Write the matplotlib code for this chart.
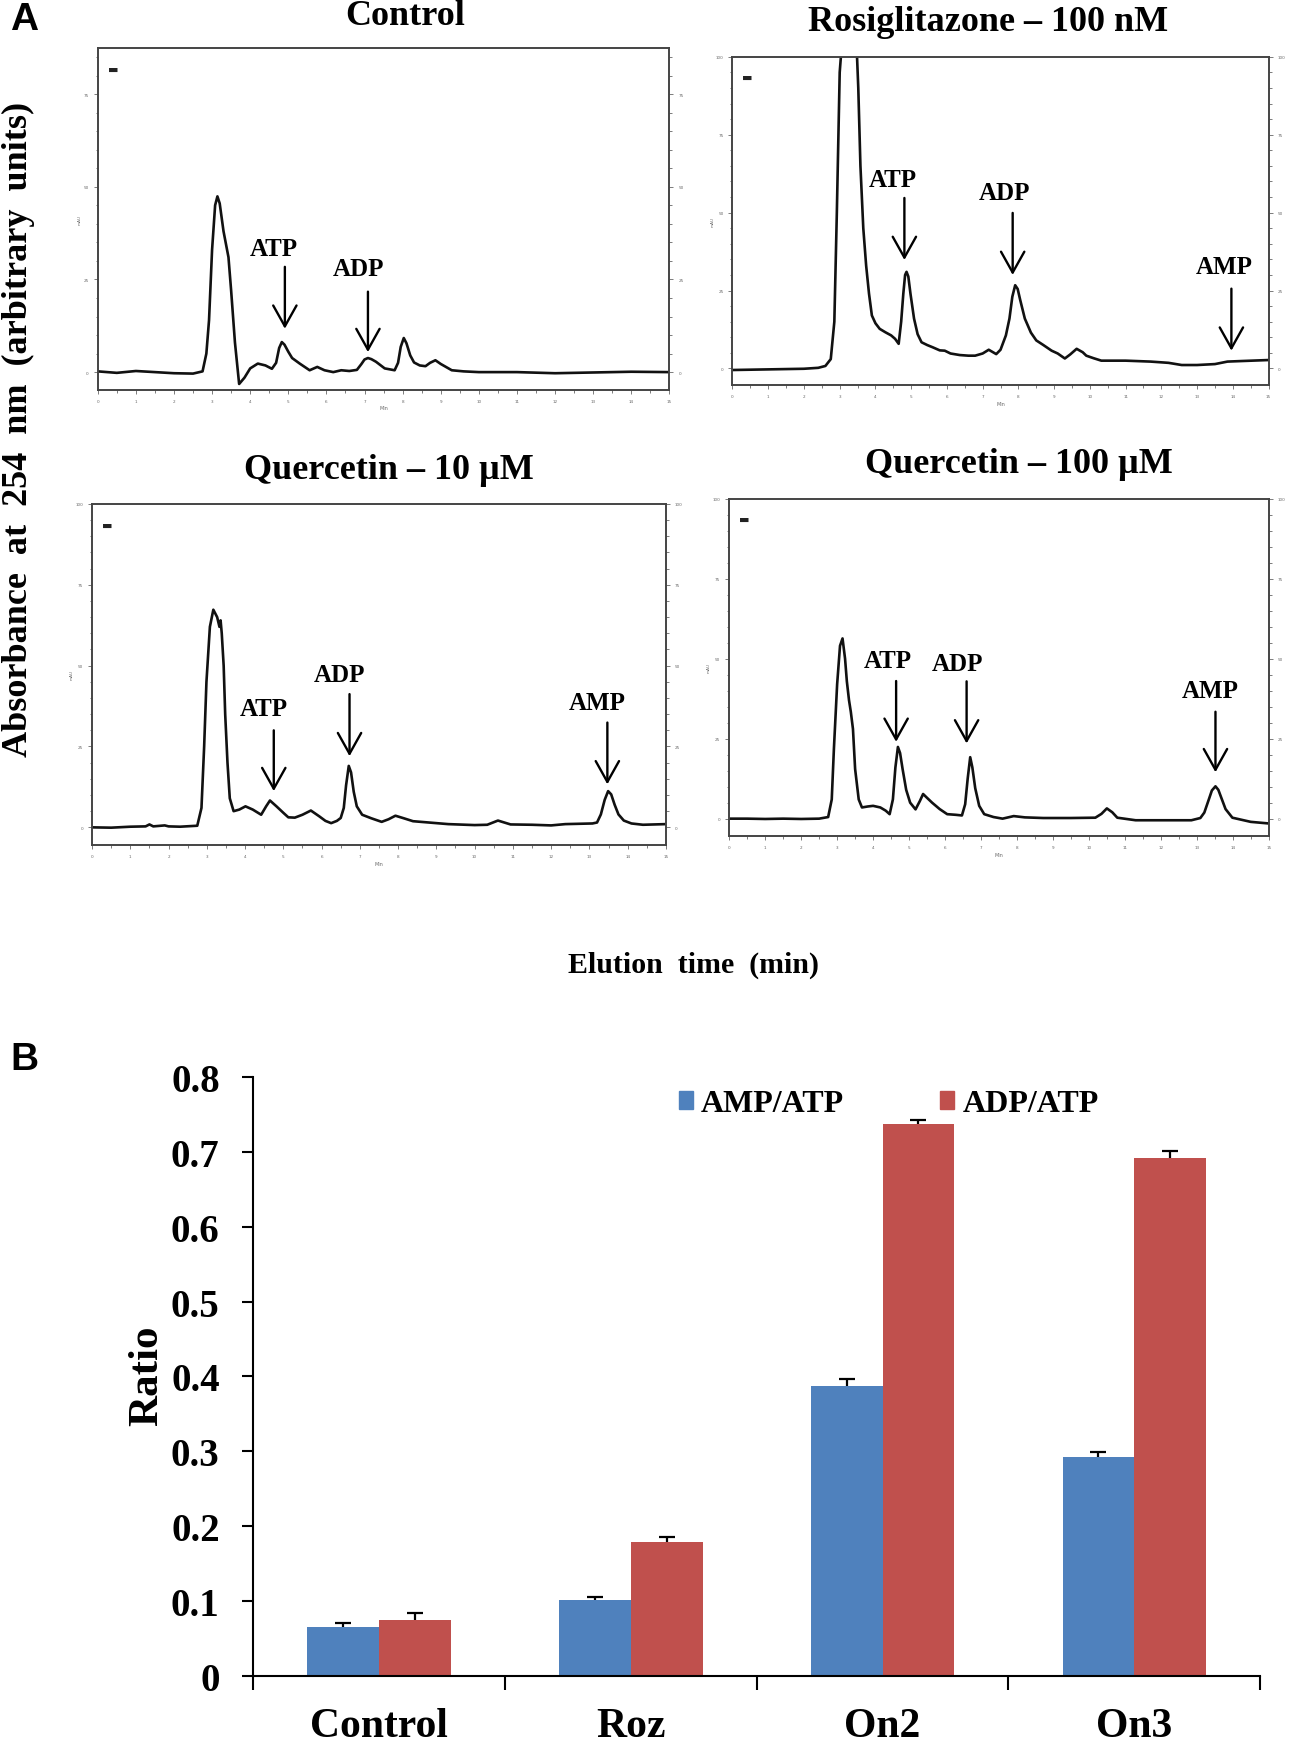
import matplotlib
matplotlib.use("Agg")
import matplotlib.pyplot as plt
from matplotlib.patches import Patch
import numpy as np

# === Panel A: HPLC chromatograms (time in min, absorbance in arbitrary units) ===
ctrl_t = [0, 0.5, 1.0, 1.5, 2.0, 2.5, 2.75, 2.85, 2.92, 3.0, 3.08, 3.14, 3.2, 3.3, 3.43,
          3.5, 3.6, 3.71, 3.85, 4.0, 4.2, 4.4, 4.57, 4.68, 4.76, 4.83, 4.9, 5.0, 5.1, 5.3,
          5.56, 5.76, 5.95, 6.18, 6.39, 6.6, 6.8, 6.92, 7.0, 7.09, 7.18, 7.3, 7.53, 7.79,
          7.88, 7.95, 8.03, 8.1, 8.2, 8.3, 8.45, 8.6, 8.72, 8.86, 9.0, 9.29, 9.6, 10, 11,
          12, 13, 14, 15]
ctrl_y = [0.2, -0.2, 0.3, 0, -0.3, -0.4, 0.2, 5, 14, 33, 45, 47.4, 45.5, 38, 31,
          22, 8, -3.2, -1.5, 1, 2.3, 1.8, 0.9, 2.5, 6.5, 8.1, 7.4, 5.5, 3.8, 2.3,
          0.5, 1.4, 0.5, 0, 0.5, 0.3, 0.6, 2.2, 3.4, 3.8, 3.5, 2.8, 1, 0.5,
          2.5, 6.8, 9.2, 7.8, 4.5, 2.6, 1.8, 1.6, 2.5, 3.2, 2.2, 0.5, 0.2, 0, 0,
          -0.3, -0.1, 0.1, 0]

rosi_t = [0, 0.5, 1, 1.5, 2, 2.4, 2.6, 2.75, 2.85, 2.92, 3.0, 3.1, 3.45, 3.52, 3.58, 3.66,
          3.74, 3.82, 3.9, 4.0, 4.12, 4.28, 4.44, 4.55, 4.65, 4.72, 4.78, 4.83, 4.87, 4.92,
          4.98, 5.08, 5.18, 5.29, 5.45, 5.6, 5.8, 5.94, 6.1, 6.36, 6.6, 6.79, 7.0, 7.17,
          7.38, 7.5, 7.65, 7.75, 7.83, 7.91, 7.98, 8.05, 8.18, 8.35, 8.5, 8.7, 8.93, 9.1,
          9.3, 9.45, 9.63, 9.8, 9.9, 10.1, 10.32, 11, 11.7, 12.2, 12.57, 13, 13.5, 13.85,
          14.3, 15]
rosi_y = [-0.5, -0.4, -0.3, -0.2, -0.1, 0.2, 0.8, 3, 15, 50, 95, 110, 110, 90, 65, 45,
          33, 24, 17, 14.5, 12.7, 11.6, 10.6, 9.5, 7.9, 15, 24, 30, 31, 29.5,
          24, 16, 11, 8.4, 7.5, 6.8, 5.8, 5.7, 4.8, 4.3, 4.1, 4.1, 4.8, 6,
          4.6, 6, 10.6, 16, 23, 26.7, 25.5, 22, 16, 11.5, 9, 7.5, 5.7, 4.8,
          3.2, 4.5, 6.3, 5.2, 4.1, 3.3, 2.5, 2.5, 2.2, 1.8, 1.1, 1.1, 1.4, 2.2,
          2.4, 2.7]

q10_t = [0, 0.5, 1, 1.4, 1.5, 1.6, 1.9, 2.0, 2.3, 2.6, 2.75, 2.86, 2.93, 2.99, 3.08, 3.17,
         3.27, 3.33, 3.36, 3.39, 3.44, 3.48, 3.54, 3.6, 3.7, 3.85, 4.01, 4.2, 4.42, 4.55,
         4.65, 4.82, 5.0, 5.13, 5.3, 5.5, 5.72, 5.94, 6.1, 6.25, 6.4, 6.5, 6.58, 6.64,
         6.71, 6.77, 6.84, 6.92, 7.06, 7.3, 7.57, 7.75, 7.93, 8.15, 8.39, 9.31, 10.0, 10.33,
         10.61, 10.94, 11.5, 12.0, 12.37, 13.08, 13.2, 13.3, 13.4, 13.49, 13.57, 13.66, 13.76,
         13.9, 14.1, 14.4, 15]
q10_y = [0, -0.1, 0.2, 0.3, 0.9, 0.3, 0.6, 0.3, 0.2, 0.4, 0.5, 6, 25, 45, 62, 67.3,
         65, 62, 64, 60, 50, 35, 20, 9, 5, 5.5, 6.5, 5.5, 3.9, 6.5,
         8.3, 6.5, 4.5, 3.1, 3.0, 3.9, 5.2, 3.4, 2.0, 1.3, 2.0, 2.9, 6, 13,
         19, 17, 11, 6.5, 3.9, 2.8, 1.7, 2.5, 3.6, 2.8, 1.9, 1.0, 0.7, 0.8,
         2.1, 0.9, 0.8, 0.6, 1.0, 1.2, 1.5, 4, 8.5, 11.2, 10.2, 7, 4,
         2.1, 1.2, 0.8, 1.0]

q100_t = [0, 0.5, 1, 1.5, 2, 2.5, 2.75, 2.85, 2.91, 3.0, 3.08, 3.15, 3.22, 3.27, 3.33, 3.38,
          3.44, 3.5, 3.6, 3.69, 3.85, 4.0, 4.2, 4.35, 4.46, 4.55, 4.62, 4.69, 4.75, 4.82,
          4.92, 5.03, 5.18, 5.3, 5.39, 5.5, 5.64, 5.85, 6.06, 6.3, 6.47, 6.56, 6.63, 6.7,
          6.76, 6.84, 6.95, 7.09, 7.35, 7.6, 7.91, 8.22, 8.73, 9.5, 10.18, 10.35, 10.5, 10.65,
          10.79, 11.3, 12, 12.85, 13.1, 13.21, 13.32, 13.42, 13.52, 13.6, 13.7, 13.8, 13.99,
          14.5, 15]
q100_y = [0, 0, -0.1, 0, -0.1, 0, 0.5, 6, 21.8, 42, 54, 56.3, 50, 42.9, 37, 33.4,
          28, 15.5, 6, 3.5, 3.8, 4, 3.5, 2.5, 1.4, 6, 16, 22.4, 20.5, 15.5,
          9, 5, 2.9, 5.5, 7.7, 6.5, 5, 3, 1.4, 1.2, 1.0, 4.5, 12.5, 19.2,
          16, 9.5, 4, 1.4, 0.5, 0, 0.8, 0.4, 0.2, 0.2, 0.3, 1.5, 3.2, 2,
          0.3, -0.5, -0.5, -0.5, 0.2, 1.9, 5.5, 8.8, 10.1, 9, 6, 3, 0.3,
          -1, -1.5]

# peak labels: (name, label_x, label_y, arrow_x, arrow_tail_y, arrow_tip_y)
ctrl_marks = [("ATP", 4.62, 33.4, 4.91, 28.4, 11.7), ("ADP", 6.85, 28.0, 7.09, 21.7, 5.4)]
rosi_marks = [("ATP", 4.49, 60.7, 4.81, 54.7, 34.8), ("ADP", 7.6, 56.4, 7.84, 49.9, 30.0),
              ("AMP", 13.75, 32.6, 13.96, 25.6, 5.7)]
q10_marks = [("ATP", 4.5, 36.7, 4.75, 30.0, 11.2), ("ADP", 6.47, 47.4, 6.73, 41.2, 22.0),
             ("AMP", 13.2, 38.6, 13.47, 32.4, 13.3)]
q100_marks = [("ATP", 4.41, 49.3, 4.64, 43.0, 24.0), ("ADP", 6.34, 48.5, 6.6, 42.9, 23.5),
              ("AMP", 13.37, 40.1, 13.52, 33.4, 14.5)]

# === Panel B: ratios ===
groups = ["Control", "Roz", "On2", "On3"]
amp_atp = [0.066, 0.101, 0.387, 0.292]
amp_err = [0.005, 0.005, 0.009, 0.007]
adp_atp = [0.075, 0.179, 0.737, 0.692]
adp_err = [0.009, 0.006, 0.006, 0.009]

SERIF = ["Liberation Serif", "DejaVu Serif"]
SANS = ["Liberation Sans", "DejaVu Sans"]
BLUE = "#4F81BD"
RED = "#C0504D"

fig = plt.figure(figsize=(12.93, 17.40), dpi=100)


def chromatogram(rect, t, y, marks, ymax, title, title_xy):
    ax = fig.add_axes(rect)
    ax.plot(t, y, color="#111111", lw=1.9)
    ax.set_xlim(0, 15)
    ax.set_ylim(-0.054 * ymax, ymax)
    ax.set_xticks(range(16))
    ax.set_xticks(np.arange(0, 15.01, 0.5), minor=True)
    ax.set_yticks(np.arange(0, ymax + 0.1, 25))
    ax.set_yticks(np.arange(0, ymax + 0.1, 5), minor=True)
    ax.tick_params(which="both", direction="out", labelsize=3, colors="#666666",
                   right=True, labelright=True, length=3, width=0.6)
    ax.tick_params(which="minor", length=1.8)
    for s in ax.spines.values():
        s.set_color("#444444")
        s.set_linewidth(1.4)
    ax.set_xlabel("Min", fontsize=3.5, color="#666666", labelpad=2)
    ax.set_ylabel("mAU", fontsize=3, color="#666666", labelpad=1)
    ax.text(0.018, 0.93, "\u25ac", transform=ax.transAxes, fontsize=8, color="#222222")
    for name, lx, ly, ax_x, tail, tip in marks:
        ax.annotate("", xy=(ax_x, tip), xytext=(ax_x, tail),
                    arrowprops=dict(arrowstyle="->,head_length=0.75,head_width=0.42",
                                    lw=1.7, color="black", mutation_scale=20,
                                    shrinkA=0, shrinkB=0))
        ax.text(lx, ly, name, ha="center", va="center", fontsize=18,
                fontweight="bold", family=SERIF)
    fig.text(title_xy[0], title_xy[1], title, ha="center", va="center",
             fontsize=26, fontweight="bold", family=SERIF)
    return ax


chromatogram([0.0756, 0.7755, 0.4421, 0.1965], ctrl_t, ctrl_y, ctrl_marks, 87.5,
             "Control", (0.3133, 0.9904))
chromatogram([0.5665, 0.7780, 0.4146, 0.1888], rosi_t, rosi_y, rosi_marks, 100,
             "Rosiglitazone \u2013 100 nM", (0.764, 0.9872))
chromatogram([0.0712, 0.5139, 0.4438, 0.1959], q10_t, q10_y, q10_marks, 100,
             "Quercetin \u2013 10 \u00b5M", (0.3005, 0.7295))
chromatogram([0.5640, 0.5190, 0.4172, 0.1939], q100_t, q100_y, q100_marks, 100,
             "Quercetin \u2013 100 \u00b5M", (0.788, 0.7333))

fig.text(0.0189, 0.9885, "A", fontsize=28, fontweight="bold", family=SANS,
         ha="center", va="center")
fig.text(0.0189, 0.3908, "B", fontsize=28, fontweight="bold", family=SANS,
         ha="center", va="center")
fig.text(0.0146, 0.7532, "Absorbance  at  254  nm  (arbitrary  units)", rotation=90,
         fontsize=26, fontweight="bold", family=SERIF, ha="center", va="center")
fig.text(0.5365, 0.445, "Elution  time  (min)", fontsize=21.5, fontweight="bold",
         family=SERIF, ha="center", va="center")

# === Panel B bar chart ===
ax = fig.add_axes([0.1957, 0.0362, 0.779, 0.3443])
x = np.arange(len(groups))
w = 0.285
ax.bar(x - w / 2, amp_atp, w, color=BLUE, label="AMP/ATP")
ax.bar(x + w / 2, adp_atp, w, color=RED, label="ADP/ATP")
for xs, vals, errs in [(x - w / 2, amp_atp, amp_err), (x + w / 2, adp_atp, adp_err)]:
    eb = ax.errorbar(xs, vals, yerr=[np.zeros(len(xs)), errs], fmt="none",
                     ecolor="black", elinewidth=1.6, capsize=6, capthick=1.6)
    eb[1][0].set_visible(False)  # keep only the upper cap
ax.set_xlim(-0.5, 3.5)
ax.set_ylim(0, 0.8)
ax.set_yticks(np.arange(0, 0.81, 0.1))
ax.set_yticklabels(["0"] + ["%.1f" % v for v in np.arange(0.1, 0.81, 0.1)])
ax.set_xticks(x)
ax.set_xticklabels(groups)
ax.set_xticks(np.arange(-0.5, 3.6, 1), minor=True)
ax.tick_params(axis="x", which="major", length=0, pad=22)
ax.tick_params(axis="x", which="minor", length=10, width=1.5, direction="out")
ax.tick_params(axis="y", length=8, width=1.5, direction="out", pad=16)
for lab in ax.get_yticklabels():
    lab.set_fontsize(28)
    lab.set_fontweight("bold")
    lab.set_family(SERIF)
for lab in ax.get_xticklabels():
    lab.set_fontsize(30)
    lab.set_fontweight("bold")
    lab.set_family(SERIF)
ax.spines["top"].set_visible(False)
ax.spines["right"].set_visible(False)
ax.spines["left"].set_linewidth(1.5)
ax.spines["bottom"].set_linewidth(1.5)
fig.text(0.1142, 0.2092, "Ratio", rotation=90, fontsize=31, fontweight="bold",
         family=SERIF, ha="center", va="center")
handles = [Patch(color=BLUE, label="AMP/ATP"), Patch(color=RED, label="ADP/ATP")]
ax.legend(handles=handles, ncol=2, loc="center left", bbox_to_anchor=(0.41, 0.955),
          frameon=False, handlelength=0.45, handleheight=0.45, handletextpad=0.25,
          columnspacing=3.0, borderaxespad=0,
          prop=dict(family=SERIF, weight="bold", size=23))

fig.savefig("out.png", dpi=100)
